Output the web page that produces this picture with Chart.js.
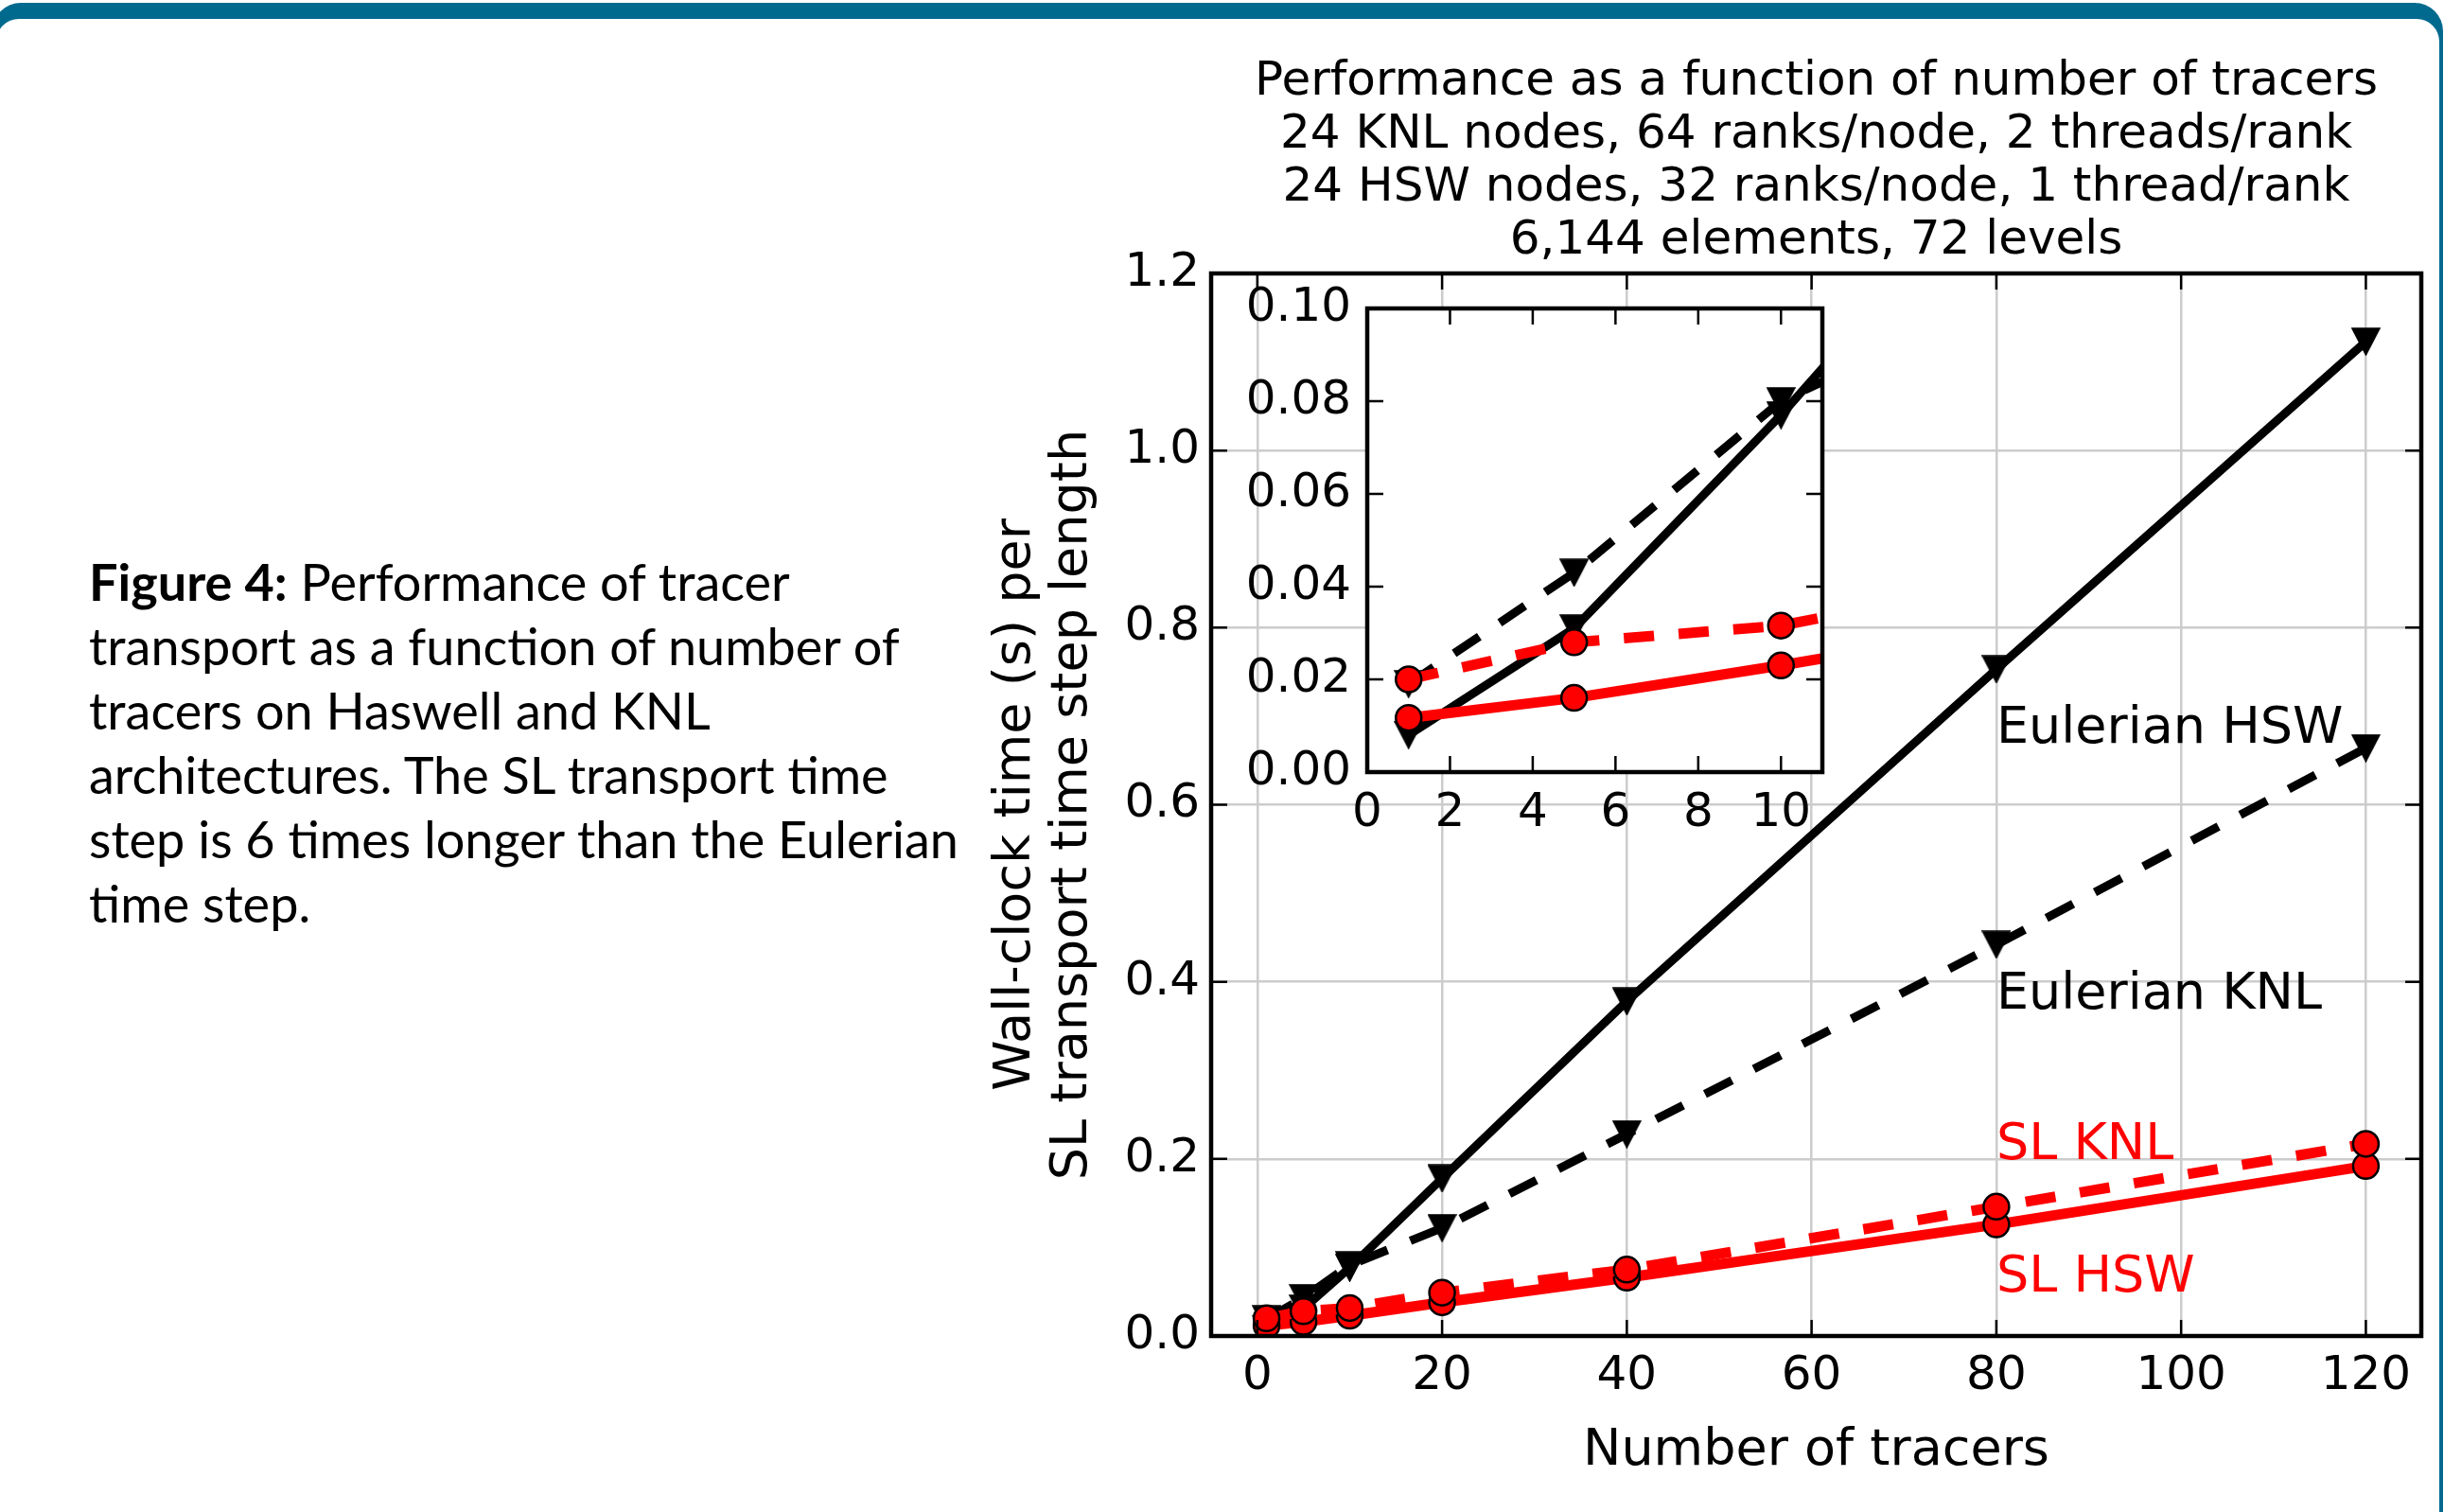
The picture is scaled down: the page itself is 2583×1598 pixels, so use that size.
<!DOCTYPE html>
<html>
<head>
<meta charset="utf-8">
<script src="https://cdn.jsdelivr.net/npm/chart.js@4.4.1/dist/chart.umd.min.js"></script>
<style>
  html, body { margin: 0; padding: 0; background: #fff; width: 2583px; height: 1598px; overflow: hidden; }
  #frame { position: absolute; left: -8px; top: 3px; width: 2590px; height: 1700px; background: #006a8e; border-radius: 30px; }
  #sheet { position: absolute; left: -4px; top: 20px; width: 2582px; height: 1700px; background: #fff; border-radius: 24px 24px 0 0; }
  #caption { position: absolute; left: 94px; top: 581px; font-family: Lato, "Open Sans", sans-serif; font-size: 54px; line-height: 68px; color: #000; white-space: nowrap; }
  #mainChart { position: absolute; left: 1000px; top: 0; }
  #insetChart { position: absolute; left: 1300px; top: 276px; }
</style>
</head>
<body>
<div id="frame"></div>
<div id="sheet"></div>
<div id="caption">
  <b>Figure 4:</b> Performance of tracer<br>
  transport as a function of number of<br>
  tracers on Haswell and KNL<br>
  architectures. The SL transport time<br>
  step is 6 times longer than the Eulerian<br>
  time step.
</div>
<canvas id="mainChart" width="1583" height="1598"></canvas>
<canvas id="insetChart" width="650" height="624"></canvas>
<script>
// data
const tracers = [1, 5, 10, 20, 40, 80, 120];
const eulerianHSW = [0.008, 0.031, 0.077, 0.178, 0.378, 0.753, 1.123];
const eulerianKNL = [0.019, 0.043, 0.080, 0.122, 0.228, 0.442, 0.664];
const slHSW = [0.0117, 0.016, 0.023, 0.038, 0.066, 0.126, 0.192];
const slKNL = [0.020, 0.028, 0.0316, 0.049, 0.075, 0.146, 0.217];

const mainXTicks = [0, 20, 40, 60, 80, 100, 120];
const mainYTicks = [0, 0.2, 0.4, 0.6, 0.8, 1.0, 1.2];
const insetXTicks = [0, 2, 4, 6, 8, 10];
const insetYTicks = [0, 0.02, 0.04, 0.06, 0.08, 0.10];

const titleLines = [
    'Performance as a function of number of tracers',
    '24 KNL nodes, 64 ranks/node, 2 threads/rank',
    '24 HSW nodes, 32 ranks/node, 1 thread/rank',
    '6,144 elements, 72 levels'
];
const yTitleLines = ['Wall-clock time (s) per', 'SL transport time step length'];
const xTitle = 'Number of tracers';

// in-plot labels: text, x, y (data units), colour
const seriesNames = ['Eulerian HSW', 'Eulerian KNL', 'SL KNL', 'SL HSW'];
const nameX = [80, 80, 80, 80];
const nameY = [0.67, 0.37, 0.2, 0.05];
const nameColors = ['#000', '#000', '#ff0000', '#ff0000'];

const FONT = 'DejaVu Sans';
const RED = '#ff0000';

// downward triangle marker (matplotlib 'v')
const triDown = document.createElement('canvas');
triDown.width = 31;
triDown.height = 30;
(() => {
    const c = triDown.getContext('2d');
    c.fillStyle = '#000';
    c.strokeStyle = '#000';
    c.lineWidth = 1.5;
    c.beginPath();
    c.moveTo(1, 1);
    c.lineTo(30, 1);
    c.lineTo(15.5, 29);
    c.closePath();
    c.fill();
    c.stroke();
})();

const toXY = vals => tracers.map((t, i) => ({ x: t, y: vals[i] }));

function buildSets() {
    const base = { fill: false, tension: 0, borderJoinStyle: 'round', pointHoverRadius: 0 };
    const dash = [32, 26];
    return [
        { ...base, label: 'Eulerian HSW', data: toXY(eulerianHSW), borderColor: '#000', borderWidth: 9,
          pointStyle: triDown, pointRadius: 15, order: 4 },
        { ...base, label: 'Eulerian KNL', data: toXY(eulerianKNL), borderColor: '#000', borderWidth: 9,
          borderDash: dash, pointStyle: triDown, pointRadius: 15, order: 3 },
        { ...base, label: 'SL HSW', data: toXY(slHSW), borderColor: RED, borderWidth: 11,
          pointStyle: 'circle', pointRadius: 13.5, pointBackgroundColor: RED,
          pointBorderColor: '#000', pointBorderWidth: 2.5, order: 2 },
        { ...base, label: 'SL KNL', data: toXY(slKNL), borderColor: RED, borderWidth: 11,
          borderDash: dash, pointStyle: 'circle', pointRadius: 13.5, pointBackgroundColor: RED,
          pointBorderColor: '#000', pointBorderWidth: 2.5, order: 1 }
    ];
}

/* ── spines + inward ticks on all four sides ── */
const boxTicks = {
    id: 'boxTicks',
    afterDatasetsDraw(chart) {
        const { ctx, chartArea: a, scales: { x, y } } = chart;
        const len = 17;
        ctx.save();
        ctx.strokeStyle = '#000';
        ctx.lineWidth = 2.5;
        ctx.beginPath();
        x.ticks.forEach(t => {
            const px = x.getPixelForValue(t.value);
            ctx.moveTo(px, a.bottom); ctx.lineTo(px, a.bottom - len);
            ctx.moveTo(px, a.top); ctx.lineTo(px, a.top + len);
        });
        y.ticks.forEach(t => {
            const py = y.getPixelForValue(t.value);
            ctx.moveTo(a.left, py); ctx.lineTo(a.left + len, py);
            ctx.moveTo(a.right, py); ctx.lineTo(a.right - len, py);
        });
        ctx.stroke();
        ctx.lineWidth = 4.5;
        ctx.strokeRect(a.left, a.top, a.right - a.left, a.bottom - a.top);
        ctx.restore();
    }
};

/* ── text labels next to the curves ── */
const curveNames = {
    id: 'curveNames',
    afterDatasetsDraw(chart) {
        const { ctx, scales: { x, y } } = chart;
        ctx.save();
        ctx.font = `54px "${FONT}"`;
        ctx.textAlign = 'left';
        ctx.textBaseline = 'alphabetic';
        seriesNames.forEach((name, i) => {
            ctx.fillStyle = nameColors[i];
            ctx.fillText(name, x.getPixelForValue(nameX[i]), y.getPixelForValue(nameY[i]));
        });
        ctx.restore();
    }
};

const whiteArea = {
    id: 'whiteArea',
    beforeDraw(chart) {
        const { ctx, chartArea: a } = chart;
        ctx.save();
        ctx.fillStyle = '#fff';
        ctx.fillRect(a.left, a.top, a.right - a.left, a.bottom - a.top);
        ctx.restore();
    }
};

const tickFont = { family: FONT, size: 50 };

new Chart(document.getElementById('mainChart'), {
    type: 'line',
    data: { datasets: buildSets() },
    options: {
        responsive: false,
        animation: false,
        events: [],
        layout: { padding: { left: 0, right: 21, top: 0, bottom: 0 } },
        plugins: {
            legend: { display: false },
            tooltip: { enabled: false },
            title: {
                display: true,
                text: titleLines,
                fullSize: false,
                color: '#000',
                font: { family: FONT, size: 50, weight: 'normal', lineHeight: 1.12 },
                padding: { top: 59, bottom: 6 }
            }
        },
        scales: {
            x: {
                type: 'linear',
                min: -5,
                max: 126,
                afterBuildTicks: s => { s.ticks = mainXTicks.map(v => ({ value: v })); },
                afterFit: s => { s.height = 186; },
                grid: { color: '#cccccc', lineWidth: 2.5, drawTicks: false },
                border: { display: false },
                ticks: { padding: 13, color: '#000', font: tickFont, maxRotation: 0, autoSkip: false },
                title: {
                    display: true, text: xTitle, color: '#000',
                    font: { family: FONT, size: 54, lineHeight: 1.15 },
                    padding: { top: 0, bottom: 33 }
                }
            },
            y: {
                type: 'linear',
                min: 0,
                max: 1.2,
                afterBuildTicks: s => { s.ticks = mainYTicks.map(v => ({ value: v })); },
                afterFit: s => { s.width = 280; },
                grid: { color: '#cccccc', lineWidth: 2.5, drawTicks: false },
                border: { display: false },
                ticks: { padding: 12, color: '#000', font: tickFont, callback: v => v.toFixed(1) },
                title: {
                    display: true, text: yTitleLines, color: '#000',
                    font: { family: FONT, size: 54, lineHeight: 1.1 },
                    padding: { top: 44.5, bottom: 0 }
                }
            }
        }
    },
    plugins: [boxTicks, curveNames]
});

new Chart(document.getElementById('insetChart'), {
    type: 'line',
    data: { datasets: buildSets() },
    options: {
        responsive: false,
        animation: false,
        events: [],
        layout: { padding: { left: 0, right: 17, top: 50, bottom: 0 } },
        plugins: { legend: { display: false }, tooltip: { enabled: false } },
        scales: {
            x: {
                type: 'linear',
                min: 0,
                max: 11,
                afterBuildTicks: s => { s.ticks = insetXTicks.map(v => ({ value: v })); },
                afterFit: s => { s.height = 84; },
                grid: { display: false, drawTicks: false },
                border: { display: false },
                ticks: { padding: 14, color: '#000', font: tickFont, maxRotation: 0, autoSkip: false }
            },
            y: {
                type: 'linear',
                min: 0,
                max: 0.1,
                afterBuildTicks: s => { s.ticks = insetYTicks.map(v => ({ value: v })); },
                afterFit: s => { s.width = 145; },
                grid: { display: false, drawTicks: false },
                border: { display: false },
                ticks: { padding: 17, color: '#000', font: tickFont, callback: v => v.toFixed(2) }
            }
        }
    },
    plugins: [whiteArea, boxTicks]
});
</script>
</body>
</html>
